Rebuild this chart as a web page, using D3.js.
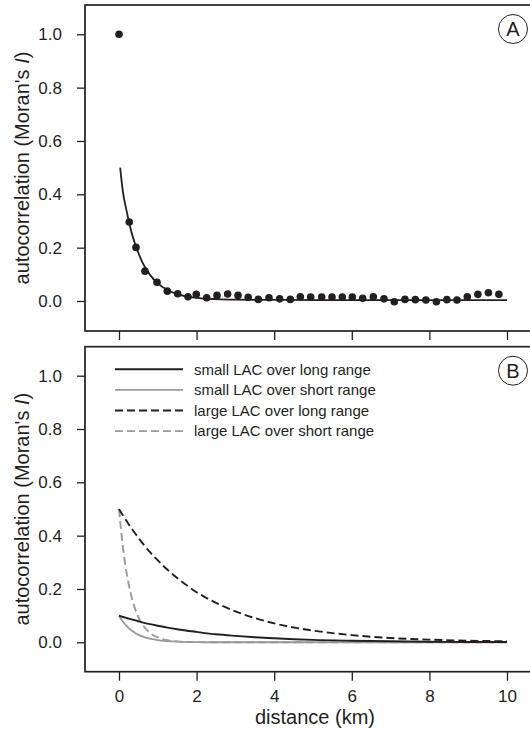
<!DOCTYPE html>
<html>
<head>
<meta charset="utf-8">
<script src="https://cdn.jsdelivr.net/npm/d3@7"></script>
<style>
  html, body { margin: 0; padding: 0; background: #fff; }
  svg { display: block; font-family: "Liberation Sans", Arial, Helvetica, sans-serif; }
</style>
</head>
<body>
<svg id="chart" width="530" height="732"></svg>
<script>
// ---- Panel A: observed Moran's I by distance class, with fitted decay ----
const distA = [0, 0.265, 0.438, 0.67, 0.98, 1.245, 1.513, 1.778, 1.992, 2.26, 2.526,
  2.80, 3.067, 3.33, 3.59, 3.866, 4.14, 4.415, 4.673, 4.94, 5.224, 5.49, 5.755,
  6.013, 6.28, 6.554, 6.83, 7.095, 7.37, 7.637, 7.91, 8.18, 8.45, 8.71, 8.977,
  9.25, 9.52, 9.79];
const moranA = [1.0, 0.296, 0.201, 0.112, 0.070, 0.037, 0.027, 0.016, 0.025, 0.012, 0.021,
  0.026, 0.021, 0.014, 0.006, 0.012, 0.008, 0.006, 0.016, 0.015, 0.015, 0.015, 0.015,
  0.015, 0.010, 0.016, 0.008, -0.003, 0.006, 0.005, 0.004, -0.003, 0.005, 0.004, 0.016,
  0.025, 0.031, 0.025];

const fitDist = [0.03, 0.1, 0.2, 0.3, 0.4, 0.5, 0.6, 0.8, 1.0, 1.25, 1.5, 2.0, 2.5, 3.0, 4.0, 6.0, 8.0, 10.0];
const fitA    = [0.50, 0.41, 0.335, 0.27, 0.22, 0.18, 0.146, 0.098, 0.066, 0.041, 0.026, 0.012, 0.007, 0.005, 0.004, 0.003, 0.003, 0.003];

// ---- Panel B: model autocorrelation curves ----
const distB      = [0, 0.1, 0.2, 0.3, 0.4, 0.5, 0.6, 0.8, 1.0, 1.25, 1.5, 2, 2.5, 3, 3.5, 4, 5, 6, 7, 8, 9, 10];
const smallLong  = [0.100, 0.095, 0.091, 0.087, 0.083, 0.079, 0.075, 0.068, 0.062, 0.055, 0.049, 0.039, 0.030, 0.024, 0.019, 0.015, 0.009, 0.006, 0.004, 0.002, 0.0014, 0.001];
const smallShort = [0.100, 0.078, 0.061, 0.047, 0.037, 0.029, 0.022, 0.0135, 0.008, 0.0044, 0.0024, 0.0007, 0.0002, 0, 0, 0, 0, 0, 0, 0, 0, 0];
const largeLong  = [0.500, 0.476, 0.454, 0.432, 0.412, 0.392, 0.373, 0.338, 0.307, 0.272, 0.241, 0.188, 0.148, 0.116, 0.091, 0.071, 0.044, 0.027, 0.016, 0.010, 0.006, 0.004];
const largeShort = [0.500, 0.358, 0.257, 0.184, 0.132, 0.094, 0.068, 0.035, 0.018, 0.0078, 0.0034, 0.0006, 0.0001, 0, 0, 0, 0, 0, 0, 0, 0, 0];

const legendLabels = ["small LAC over long range", "small LAC over short range",
                      "large LAC over long range", "large LAC over short range"];
const xTicks = [0, 2, 4, 6, 8, 10];
const yTicks = [0, 0.2, 0.4, 0.6, 0.8, 1.0];

// ---- styling ----
const INK = "#231f20";
const GREY = "#9a9a9a";
const DASH = "8,4";

const svg = d3.select("#chart");

// shared horizontal scale
const x = d3.scaleLinear().domain([0, 10]).range([119, 507]);

// panel geometry (frame extends slightly past the right edge of the page)
const frameLeft = 85, frameRight = 545;
const panels = [
  { key: "A", top: 5,     bottom: 331,   y: d3.scaleLinear().domain([0, 1]).range([301, 34.3]),  xLabels: false },
  { key: "B", top: 346.7, bottom: 671.7, y: d3.scaleLinear().domain([0, 1]).range([642.3, 375.7]), xLabels: true }
];

panels.forEach(p => {
  const g = svg.append("g");

  // x axis ticks
  const xa = g.append("g")
    .attr("transform", `translate(0,${p.bottom})`)
    .call(d3.axisBottom(x).tickValues(xTicks).tickSize(9).tickPadding(9)
      .tickFormat(p.xLabels ? d3.format("d") : () => ""));
  xa.select(".domain").remove();
  xa.selectAll("line").attr("stroke", INK).attr("stroke-width", 1.3);
  xa.selectAll("text").attr("fill", INK).style("font-size", "17px").style("font-family", null);

  // y axis ticks
  const ya = g.append("g")
    .attr("transform", `translate(${frameLeft},0)`)
    .call(d3.axisLeft(p.y).tickValues(yTicks).tickSize(8).tickPadding(15).tickFormat(d3.format(".1f")));
  ya.select(".domain").remove();
  ya.selectAll("line").attr("stroke", INK).attr("stroke-width", 1.3);
  ya.selectAll("text").attr("fill", INK).style("font-size", "17px").style("font-family", null);

  // frame
  g.append("rect")
    .attr("x", frameLeft).attr("y", p.top)
    .attr("width", frameRight - frameLeft).attr("height", p.bottom - p.top)
    .attr("fill", "none").attr("stroke", INK).attr("stroke-width", 1.7);

  // y axis title
  const cy = (p.top + p.bottom) / 2;
  const t = g.append("text")
    .attr("transform", `translate(29,${cy}) rotate(-90)`)
    .attr("text-anchor", "middle")
    .attr("fill", INK)
    .style("font-size", "20px");
  t.append("tspan").text("autocorrelation (Moran's ");
  t.append("tspan").style("font-style", "italic").text("I");
  t.append("tspan").text(")");

  // panel tag
  const tagY = p.top + 24;
  g.append("circle").attr("cx", 513).attr("cy", tagY).attr("r", 14.5)
    .attr("fill", "#fff").attr("stroke", INK).attr("stroke-width", 1);
  g.append("text").attr("x", 513).attr("y", tagY).attr("dy", "0.36em")
    .attr("text-anchor", "middle").attr("fill", INK).style("font-size", "20px").text(p.key);

  p.g = g;
});

// ---- Panel A marks ----
const pA = panels[0];
const lineA = d3.line().x(d => x(d[0])).y(d => pA.y(d[1])).curve(d3.curveMonotoneX);
pA.g.append("path")
  .datum(d3.zip(fitDist, fitA))
  .attr("d", lineA)
  .attr("fill", "none").attr("stroke", INK).attr("stroke-width", 1.8);

pA.g.append("g").selectAll("circle")
  .data(d3.zip(distA, moranA))
  .join("circle")
  .attr("cx", d => x(d[0])).attr("cy", d => pA.y(d[1])).attr("r", 3.8)
  .attr("fill", INK);

// ---- Panel B marks ----
const pB = panels[1];
const lineB = d3.line().x(d => x(d[0])).y(d => pB.y(d[1])).curve(d3.curveMonotoneX);
const seriesB = [
  { values: smallShort, color: GREY, dash: null },
  { values: largeShort, color: GREY, dash: DASH },
  { values: smallLong,  color: INK,  dash: null },
  { values: largeLong,  color: INK,  dash: DASH }
];
seriesB.forEach(s => {
  pB.g.append("path")
    .datum(d3.zip(distB, s.values))
    .attr("d", lineB)
    .attr("fill", "none").attr("stroke", s.color).attr("stroke-width", 1.9)
    .attr("stroke-dasharray", s.dash);
});

// legend
const legendStyles = [
  { color: INK,  dash: null },
  { color: GREY, dash: null },
  { color: INK,  dash: DASH },
  { color: GREY, dash: DASH }
];
const leg = pB.g.append("g");
legendLabels.forEach((lab, i) => {
  const ly = 369.3 + i * 20.6;
  leg.append("line").attr("x1", 115).attr("x2", 183).attr("y1", ly).attr("y2", ly)
    .attr("stroke", legendStyles[i].color).attr("stroke-width", 1.9)
    .attr("stroke-dasharray", legendStyles[i].dash);
  leg.append("text").attr("x", 194).attr("y", ly).attr("dy", "0.35em")
    .attr("fill", INK).style("font-size", "15px").text(lab);
});

// x axis title
svg.append("text")
  .attr("x", (frameLeft + frameRight) / 2).attr("y", 724)
  .attr("text-anchor", "middle").attr("fill", INK)
  .style("font-size", "20px").text("distance (km)");
</script>
</body>
</html>
